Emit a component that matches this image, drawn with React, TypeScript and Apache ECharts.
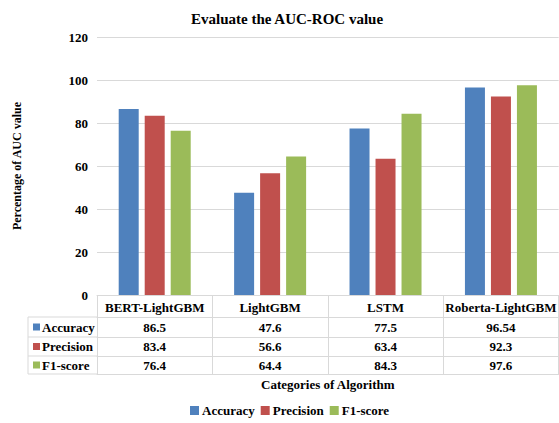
import React, { useEffect, useRef } from "react";
import * as echarts from "echarts";

const categories = ["BERT-LightGBM", "LightGBM", "LSTM", "Roberta-LightGBM"];
const seriesNames = ["Accuracy", "Precision", "F1-score"];
const accuracy = [86.5, 47.6, 77.5, 96.54];
const precision = [83.4, 56.6, 63.4, 92.3];
const f1score = [76.4, 64.4, 84.3, 97.6];
const colors = ["#4f81bd", "#c0504d", "#9bbb59"];
const yTicks = { min: 0, max: 120, interval: 20 };

const FONT = "'Liberation Serif', 'Times New Roman', serif";
const LINE = "#d9d9d9";

export default function App() {
  const ref = useRef<HTMLDivElement>(null);
  useEffect(() => {
    if (!ref.current) return;
    const chart = echarts.init(ref.current, null, { renderer: "svg" });
    const values = [accuracy, precision, f1score];
    const rowOffsets = [22, 42, 61];
    const rowMargins = [10, 9.5, 9];
    const rowCenters = [327, 346.5, 365];
    const rowLines = [317, 337, 356, 374];

    const headerAxis = {
      type: "category",
      gridIndex: 0,
      position: "bottom",
      data: categories,
      axisLine: { show: true, lineStyle: { color: LINE, width: 1 } },
      axisTick: { show: true, length: 22, lineStyle: { color: LINE } },
      axisLabel: {
        interval: 0,
        margin: 12,
        verticalAlign: "middle",
        color: "#000",
        fontFamily: FONT,
        fontWeight: "bold",
        fontSize: 13,
      },
    };
    const rowAxes = values.map((vals, i) => ({
      type: "category",
      gridIndex: 0,
      position: "bottom",
      offset: rowOffsets[i],
      data: vals.map((v) => String(v)),
      axisLine: { show: true, lineStyle: { color: LINE, width: 1 } },
      axisTick: { show: true, length: rowLines[i + 1] - rowLines[i], lineStyle: { color: LINE } },
      axisLabel: {
        interval: 0,
        margin: rowMargins[i],
        verticalAlign: "middle",
        color: "#000",
        fontFamily: FONT,
        fontWeight: "bold",
        fontSize: 13,
      },
    }));
    const bottomAxis = {
      type: "category",
      gridIndex: 0,
      position: "bottom",
      offset: 79,
      data: categories,
      axisLine: { show: true, lineStyle: { color: LINE, width: 1 } },
      axisTick: { show: false },
      axisLabel: { show: false },
      name: "Categories of Algorithm",
      nameLocation: "middle",
      nameGap: 4,
      nameTextStyle: {
        color: "#000",
        fontFamily: FONT,
        fontWeight: "bold",
        fontSize: 13,
        verticalAlign: "top",
      },
    };

    const graphic: any[] = [];
    rowLines.forEach((y) => {
      graphic.push({
        type: "line",
        shape: { x1: 28, y1: y, x2: 97, y2: y },
        style: { stroke: LINE, lineWidth: 1 },
      });
    });
    graphic.push({
      type: "line",
      shape: { x1: 28, y1: rowLines[0], x2: 28, y2: rowLines[3] },
      style: { stroke: LINE, lineWidth: 1 },
    });
    seriesNames.forEach((n, i) => {
      graphic.push({
        type: "rect",
        shape: { x: 33, y: rowCenters[i] - 3.5, width: 7, height: 7 },
        style: { fill: colors[i] },
      });
      graphic.push({
        type: "text",
        x: 42,
        y: rowCenters[i],
        style: {
          text: n,
          fill: "#000",
          fontFamily: FONT,
          fontWeight: "bold",
          fontSize: 13,
          verticalAlign: "middle",
          align: "left",
        },
      });
    });

    chart.setOption({
      animation: false,
      title: {
        text: "Evaluate the AUC-ROC value",
        left: 186,
        top: 6,
        textStyle: { fontFamily: FONT, fontWeight: "bold", fontSize: 15, color: "#000" },
      },
      legend: {
        data: seriesNames,
        bottom: 1,
        left: 185,
        itemWidth: 9,
        itemHeight: 9,
        itemGap: 6,
        icon: "rect",
        textStyle: { fontFamily: FONT, fontWeight: "bold", fontSize: 13, color: "#000", padding: [0, 0, 0, -2] },
      },
      grid: { left: 97, right: -4, top: 37, bottom: 128, containLabel: false },
      xAxis: [headerAxis, ...rowAxes, bottomAxis],
      yAxis: {
        type: "value",
        min: yTicks.min,
        max: yTicks.max,
        interval: yTicks.interval,
        axisLine: { show: false },
        axisTick: { show: false },
        splitLine: { lineStyle: { color: LINE } },
        axisLabel: {
          margin: 9,
          color: "#000",
          fontFamily: FONT,
          fontWeight: "bold",
          fontSize: 13,
        },
        name: "Percentage of AUC value",
        nameLocation: "middle",
        nameGap: 74,
        nameTextStyle: { fontFamily: FONT, fontWeight: "bold", fontSize: 12, color: "#000" },
      },
      graphic,
      series: values.map((vals, i) => ({
        name: seriesNames[i],
        type: "bar",
        xAxisIndex: 0,
        data: vals,
        barWidth: 20,
        barGap: "30%",
        itemStyle: { color: colors[i] },
      })),
    });
    return () => chart.dispose();
  }, []);
  return (
    <div
      ref={ref}
      style={{ position: "fixed", left: 0, top: 0, width: 559, height: 423, background: "#fff" }}
    />
  );
}
